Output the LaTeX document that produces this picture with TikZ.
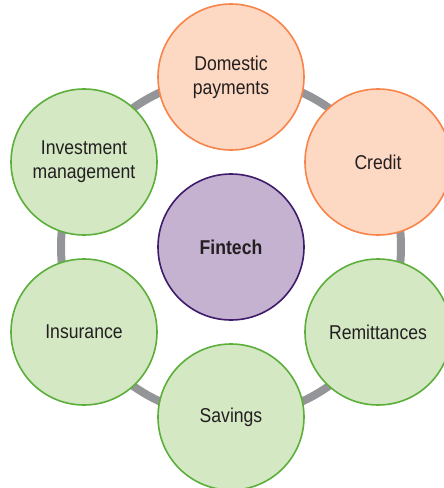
\documentclass[tikz,border=0pt]{standalone}
\usepackage{fontspec}
\setmainfont{Liberation Sans}[FakeStretch=0.88]
\usepackage{xcolor}
\usetikzlibrary{positioning}
\definecolor{ringgray}{HTML}{939598}
\definecolor{orangeline}{HTML}{F7844A}
\definecolor{orangefill}{HTML}{FDD8C2}
\definecolor{greenline}{HTML}{5BAF3A}
\definecolor{greenfill}{HTML}{D4E8C4}
\definecolor{purpleline}{HTML}{3F1B6C}
\definecolor{purplefill}{HTML}{C5B1D0}
\definecolor{textdark}{HTML}{231F20}

\begin{document}
\begin{tikzpicture}[x=1pt,y=1pt,
	bubble/.style={circle,minimum size=146pt,inner sep=0pt,line width=1.6pt,
		align=center,text=textdark,font=\fontsize{20}{24}\selectfont},
	orangebubble/.style={bubble,draw=orangeline,fill=orangefill},
	greenbubble/.style={bubble,draw=greenline,fill=greenfill},
	hubbubble/.style={bubble,draw=purpleline,fill=purplefill,font=\fontsize{20}{24}\selectfont\bfseries}]
	\useasboundingbox (0,0) rectangle (444,-488);
	\coordinate (hub centre) at (231,-247);
	\draw[ringgray,line width=8pt] (hub centre) circle (170);
	\node[hubbubble] (fintech) at (hub centre) {Fintech};
	\node[orangebubble] (domestic) at (231,-77) {Domestic\\payments};
	\node[orangebubble] (credit) at (378,-162) {Credit};
	\node[greenbubble] (remittances) at (378,-332) {Remittances};
	\node[greenbubble] (savings) at (231,-417) {Savings};
	\node[greenbubble] (insurance) at (84,-332) {Insurance};
	\node[greenbubble] (investment) at (84,-162) {Investment\\management};
\end{tikzpicture}
\end{document}
